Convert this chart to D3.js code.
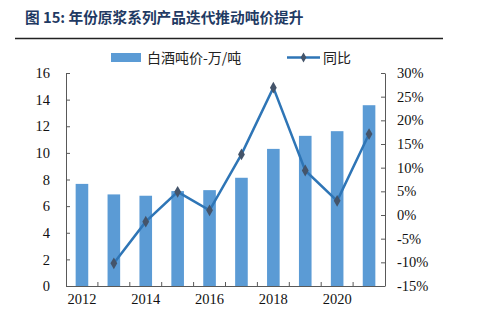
<!DOCTYPE html>
<html><head><meta charset="utf-8">
<script src="https://cdn.jsdelivr.net/npm/d3@7"></script>
<style>body{margin:0;background:#fff}svg{display:block}</style>
</head><body><svg id="c" width="486" height="322"></svg>
<script>
const years = [2012,2013,2014,2015,2016,2017,2018,2019,2020,2021];
const pricePerTon = [7.67,6.88,6.78,7.13,7.2,8.13,10.3,11.28,11.63,13.58];
const yoy = [null,-10.2,-1.4,4.9,1.0,12.8,26.9,9.4,3.0,17.1];
const leftTicks = [0,2,4,6,8,10,12,14,16];
const rightTicks = [-15,-10,-5,0,5,10,15,20,25,30];
const xLabelYears = [2012,2014,2016,2018,2020];
const titleText = "图 15: 年份原浆系列产品迭代推动吨价提升";
const legendBar = "白酒吨价-万/吨";
const legendLine = "同比";

const svg = d3.select("#c");
const m = {l:66, r:385, t:73, b:286};
const serif = "'Liberation Serif','Times New Roman',serif";
const cjk = "'Noto Sans CJK SC','Noto Sans',sans-serif";

// title
svg.append("text").attr("x",25).attr("y",23).text(titleText)
  .attr("font-family",cjk).attr("font-weight","bold").attr("font-size",14.7).attr("fill","#1f3a63");
svg.append("line").attr("x1",15).attr("x2",443).attr("y1",38.5).attr("y2",38.5)
  .attr("stroke","#222").attr("stroke-width",1.3);

const xb = d3.scaleBand().domain(years).range([m.l,m.r]);
const yL = d3.scaleLinear().domain([0,16]).range([m.b,m.t]);
const yR = d3.scaleLinear().domain([-15,30]).range([m.b,m.t]);

const barColor = "#5b9bd5", lineColor = "#2e75b6", markColor = "#44546a", axisColor="#595959";

// bars
svg.append("g").selectAll("rect").data(years).join("rect")
  .attr("x",(d,i)=>xb(d)+xb.bandwidth()/2-6.3).attr("width",12.6)
  .attr("y",(d,i)=>yL(pricePerTon[i])).attr("height",(d,i)=>m.b-yL(pricePerTon[i]))
  .attr("fill",barColor);

// axes
const gl = svg.append("g").attr("transform",`translate(${m.l},0)`)
  .call(d3.axisLeft(yL).tickValues(leftTicks).tickSizeInner(-4).tickSizeOuter(0).tickPadding(16));
const gr = svg.append("g").attr("transform",`translate(${m.r},0)`)
  .call(d3.axisRight(yR).tickValues(rightTicks).tickSizeInner(-4).tickSizeOuter(0).tickPadding(12).tickFormat(d=>d+"%"));
const gx = svg.append("g").attr("transform",`translate(0,${m.b})`)
  .call(d3.axisBottom(xb).tickValues(xLabelYears).tickSize(0).tickPadding(8));
// between-category ticks
svg.append("g").selectAll("line").data(years.slice(1)).join("line")
  .attr("x1",d=>xb(d)).attr("x2",d=>xb(d)).attr("y1",m.b).attr("y2",m.b-4)
  .attr("stroke",axisColor).attr("stroke-width",1);
[gl,gr,gx].forEach(g=>{
  g.selectAll("path,line").attr("stroke",axisColor).attr("stroke-width",1);
  g.selectAll("text").attr("font-family",serif).attr("font-size",14.5).attr("fill","#111");
});
gx.select(".domain").attr("d",`M${m.l},0.5H${m.r}`);

// line
const pts = years.map((d,i)=>({x:xb(d)+xb.bandwidth()/2, v:yoy[i]})).filter(p=>p.v!==null);
svg.append("path").datum(pts)
  .attr("d",d3.line().x(p=>p.x).y(p=>yR(p.v)))
  .attr("fill","none").attr("stroke",lineColor).attr("stroke-width",2.5);
svg.append("g").selectAll("path").data(pts).join("path")
  .attr("transform",p=>`translate(${p.x},${yR(p.v)})`)
  .attr("d",d3.symbol(d3.symbolDiamond,40)).attr("fill",markColor);

// legend
svg.append("rect").attr("x",111).attr("y",53).attr("width",30).attr("height",9).attr("fill",barColor);
svg.append("text").attr("x",147).attr("y",62.5).text(legendBar)
  .attr("font-family",cjk).attr("font-size",14).attr("fill","#222");
svg.append("line").attr("x1",287).attr("x2",320).attr("y1",57.5).attr("y2",57.5)
  .attr("stroke",lineColor).attr("stroke-width",2.5);
svg.append("path").attr("transform","translate(303.5,57.5)").attr("d",d3.symbol(d3.symbolDiamond,28)).attr("fill",markColor);
svg.append("text").attr("x",323).attr("y",62.5).text(legendLine)
  .attr("font-family",cjk).attr("font-size",14).attr("fill","#222");
</script></body></html>
